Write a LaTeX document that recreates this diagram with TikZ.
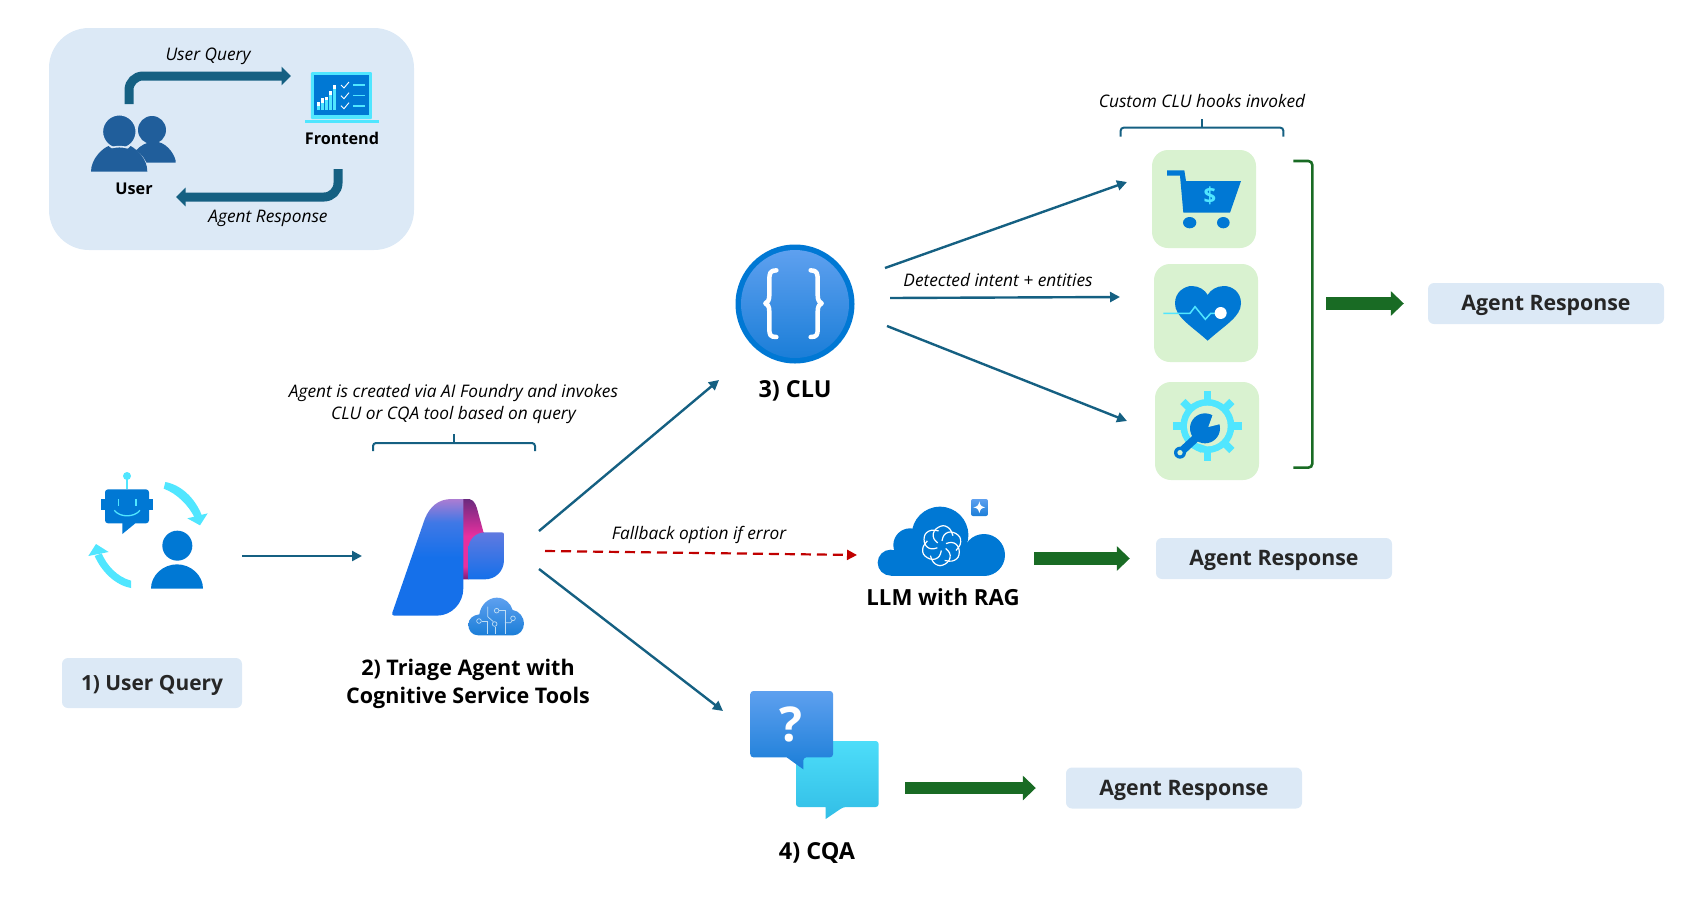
\documentclass[tikz,border=0pt]{standalone}
\usepackage{fontspec}
\setmainfont{Open Sans}
\usetikzlibrary{arrows.meta,calc}
\definecolor{panelc}{HTML}{DCE9F6}
\definecolor{conn}{HTML}{156082}
\definecolor{iblue}{HTML}{0078D4}
\definecolor{icyan}{HTML}{50E6FF}
\definecolor{ugreen}{HTML}{D9F2D0}
\definecolor{dgreen}{HTML}{196B24}
\definecolor{usr}{HTML}{205E9B}
\definecolor{dred}{HTML}{C00000}
\definecolor{tA}{HTML}{AC7CD2}
\definecolor{tB}{HTML}{3F78E6}
\definecolor{tC}{HTML}{1570EA}
\definecolor{pA}{HTML}{6B2A7E}
\definecolor{pB}{HTML}{E8309F}
\definecolor{pC}{HTML}{741F78}
\definecolor{gradTop}{HTML}{5EA0EF}
\definecolor{gradBot}{HTML}{1B7ED8}
\definecolor{cyTop}{HTML}{4DDDF9}
\definecolor{cyBot}{HTML}{32BEE6}
\pgfdeclareverticalshading{triagemain}{100bp}{color(0bp)=(tC); color(25bp)=(tC); color(50bp)=(tC); color(65bp)=(tB); color(75bp)=(tA); color(100bp)=(tA)}
\pgfdeclareverticalshading{ribbon}{100bp}{color(0bp)=(pC); color(25bp)=(pC); color(33bp)=(pB); color(52bp)=(pB); color(75bp)=(pA); color(100bp)=(pA)}
\tikzset{
  zoomed/.style 2 args={shift={(#1,#2)},x=0.33333pt,y=-0.33333pt},
  iconbox/.style={inner sep=0pt,outer sep=0pt},
  panelbox/.style={fill=panelc,rounded corners=40pt,inner sep=0pt,minimum width=365pt,minimum height=222pt},
  respbox/.style={fill=panelc,rounded corners=6pt,inner sep=0pt,minimum width=236pt,minimum height=41pt,text height=18pt,text depth=3.6pt,font=\fontsize{21.3}{24}\selectfont\bfseries,text=black!85},
  hookbox/.style={fill=ugreen,rounded corners=16pt,inner sep=0pt,minimum width=104pt,minimum height=98pt},
  captext/.style={font=\fontsize{17.3}{21.5}\selectfont\itshape,text=black,inner sep=0pt,align=center},
  smalltitle/.style={font=\fontsize{16.2}{20}\selectfont\bfseries,text=black,inner sep=0pt},
  bigtitle/.style={font=\fontsize{21.5}{28}\selectfont\bfseries,text=black,inner sep=0pt,align=center},
  largetitle/.style={font=\fontsize{23.4}{28}\selectfont\bfseries,text=black,inner sep=0pt},
  elbow/.style={draw=conn,line width=9pt,rounded corners=14pt,-{Triangle[length=9.5pt,width=18pt]}},
  flow/.style={draw=conn,line width=2.4pt,-{Triangle[length=10pt,width=10pt]}},
  fallback/.style={draw=dred,line width=2.2pt,dash pattern=on 10pt off 6pt,-{Triangle[length=10pt,width=10pt]}},
  bigarrow/.style={draw=dgreen,line width=12.5pt,-{Triangle[length=13pt,width=24pt]}},
  bracketline/.style={draw=conn,line width=2pt,rounded corners=3pt},
  greenbracket/.style={draw=dgreen,line width=2.6pt,rounded corners=4pt},
}
\begin{document}
\begin{tikzpicture}[x=1pt,y=-1pt]
\useasboundingbox (0,0) rectangle (1681,900);

%% ---- top-left panel
\node[panelbox] (panel) at (231.5,139) {};

% users icon
\node[iconbox,minimum width=85pt,minimum height=68pt] (users) at (133,138) {};
\begin{scope}[zoomed={30}{10}]
  \fill[usr] (366,360) circle[radius=42];
  \fill[usr] (300,458) .. controls (310,415) and (345,395) .. (375,395) .. controls (405,395) and (430,425) .. (437,452) -- (437,458) -- cycle;
  \fill[usr,draw=panelc,line width=1.6pt] (268,365) circle[radius=51];
  \fill[usr,draw=panelc,line width=1.6pt] (183,485) .. controls (183,445) and (220,410) .. (268,410) .. controls (316,410) and (352,445) .. (352,485) -- cycle;
  \fill[usr] (183,485) .. controls (183,445) and (220,413) .. (236,408) .. controls (250,426) and (290,426) .. (302,408) .. controls (320,418) and (352,445) .. (352,485) -- cycle;
\end{scope}

% laptop icon
\node[iconbox,minimum width=74pt,minimum height=51pt] (frontendicon) at (342,97.5) {};
\begin{scope}[zoomed={30}{10}]
  \fill[icyan,rounded corners=1pt] (843,186) rectangle (1026,327);
  \fill[iblue] (851,196) rectangle (1018,315);
  \fill[icyan] (825,329) rectangle (1047,339);
  \foreach \xa/\yb/\yc in {861/277/287, 873/265/278, 885/262/270, 897/243/255, 909/226/238}{
    \fill[icyan] (\xa,\yc) rectangle (\xa+10,300);
    \fill[white] (\xa,\yb) rectangle (\xa+10,\yc);
  }
  \foreach \yy in {225,257,287}{
    \draw[white,line width=.9pt] (933,\yy) -- (942,\yy+9) -- (957,\yy-9);
  }
  \foreach \yy in {225,256,288}{
    \draw[icyan,line width=1.3pt] (970,\yy) -- (1005,\yy);
  }
\end{scope}

\node[smalltitle] (frontendlabel) at (342,138) {Frontend};
\node[smalltitle] (userlabel) at (134,189) {User};
\node[captext] (uqlabel) at (208,56) {User Query};
\node[captext] (arlabel) at (268,218) {Agent Response};

\coordinate (toFrontend) at (291,76);
\coordinate (fromUser) at (129,104);
\coordinate (fromFrontend) at (338,169);
\coordinate (toUser) at (176,197);
\draw[elbow] (fromUser) |- (toFrontend);
\draw[elbow] (fromFrontend) |- (toUser);

%% ---- user query icon
\node[iconbox,minimum width=184pt,minimum height=120pt] (queryicon) at (150,556) {};
\begin{scope}[zoomed={60}{450}]
  \fill[icyan] (201,78) circle[radius=12];
  \draw[icyan,line width=1.4pt] (201,85) -- (201,118);
  \fill[iblue] (124,147) rectangle (278,180);
  \fill[iblue,rounded corners=3pt] (135,118) rectangle (267,220);
  \fill[iblue] (187,215) -- (187,252) -- (226,220) -- cycle;
  \draw[icyan,line width=1.2pt] (175,147) -- (175,168);
  \draw[icyan,line width=1.2pt] (228,147) -- (228,168);
  \draw[icyan,line width=1.3pt] (163,181) .. controls (180,203) and (222,203) .. (240,181);
  \fill[iblue] (352,287) circle[radius=45];
  \fill[iblue] (273,416) .. controls (273,375) and (310,343) .. (351,343) .. controls (392,343) and (429,375) .. (429,416) -- cycle;
  % cycle arrows
  \fill[icyan] (316,96) .. controls (365,105) and (405,145) .. (425,195) -- (404,203) .. controls (385,165) and (350,130) .. (311,116) -- cycle;
  \fill[icyan] (382,205) -- (443,190) -- (420,226) -- cycle;
  \fill[icyan] (213,392) .. controls (170,380) and (140,345) .. (125,310) -- (104,318) .. controls (125,365) and (165,405) .. (213,414) -- cycle;
  \fill[icyan] (85,318) -- (108,282) -- (146,306) -- cycle;
\end{scope}

\node[respbox,minimum width=180pt,minimum height=50pt,font=\fontsize{20.9}{24}\selectfont\bfseries] (step1) at (152,683) {1) User Query};

%% ---- triage agent icon
\node[iconbox,minimum width=177pt,minimum height=140pt] (triageicon) at (450.5,556) {};
\begin{scope}[zoomed={60}{450}]
  \path[shading=ribbon] (1205,147) -- (1228,147) .. controls (1245,150) and (1250,170) .. (1255,190) -- (1272,252) -- (1272,320) -- (1226,388) -- (1205,388) -- cycle;
  \path[shading=triagemain] (1210,147) -- (1210,415) .. controls (1210,460) and (1175,497) .. (1130,497) -- (1003,497) .. controls (998,497) and (995,493) .. (997,488) -- (1095,205) .. controls (1110,170) and (1135,147) .. (1175,147) -- cycle;
  \shade[top color=tB!70!tA,bottom color=tC] (1225,388) -- (1225,300) .. controls (1225,265) and (1250,247) .. (1275,247) -- (1325,247) .. controls (1330,247) and (1332,249) .. (1332,254) -- (1332,330) .. controls (1332,365) and (1305,388) .. (1275,388) -- cycle;
  % small cloud
  \shade[top color=gradTop,bottom color=gradBot] (1255,556) .. controls (1235,556) and (1225,540) .. (1225,525) .. controls (1225,505) and (1240,495) .. (1258,493) .. controls (1262,465) and (1285,443) .. (1310,443) .. controls (1335,443) and (1352,460) .. (1358,480) .. controls (1378,482) and (1392,503) .. (1392,520) .. controls (1392,540) and (1378,556) .. (1360,556) -- cycle;
  \begin{scope}[draw=white!75!iblue,line width=.7pt]
    \draw (1283,470) -- (1283,500) -- (1300,515);
    \draw (1265,513) -- (1283,513) -- (1283,553);
    \draw (1317,482) -- (1335,482) -- (1335,553);
    \draw (1335,518) -- (1352,518) -- (1358,510);
    \draw (1305,530) -- (1305,553);
    \foreach \cx/\cy in {1310/482,1304/522,1257/513,1359/505}{
      \draw (\cx,\cy) circle[radius=7];
    }
  \end{scope}
\end{scope}

\node[bigtitle] (triagelabel) at (468,683.5) {2) Triage Agent with\\Cognitive Service Tools};
\node[captext] (agentcap) at (453.5,404) {Agent is created via AI Foundry and invokes\\CLU or CQA tool based on query};
\coordinate (agL) at (373,451);
\coordinate (agR) at (535,451);
\coordinate (agT) at (454,434);
\coordinate (agH) at (454,443);
\draw[bracketline] (agL) |- (agH) -| (agR);
\draw[draw=conn,line width=2pt] (agT) -- (agH);

%% ---- CLU
\node[iconbox,circle,fill=iblue,minimum size=119pt] (clu) at (795,304) {};
\shade[top color=gradTop,bottom color=gradBot] (795,304) circle[radius=54];
\begin{scope}[zoomed={720}{230}]
  \draw[white,line width=4.5pt,line cap=round,line join=round] (169,121) .. controls (150,121) and (148,130) .. (148,150) -- (148,195) .. controls (148,212) and (142,218) .. (136,220) .. controls (142,222) and (148,228) .. (148,245) -- (148,295) .. controls (148,315) and (150,321) .. (169,321);
  \draw[white,line width=4.5pt,line cap=round,line join=round] (272,121) .. controls (291,121) and (293,130) .. (293,150) -- (293,195) .. controls (293,212) and (299,218) .. (305,220) .. controls (299,222) and (293,228) .. (293,245) -- (293,295) .. controls (293,315) and (291,321) .. (272,321);
\end{scope}
\node[largetitle] (clulabel) at (795,391) {3) CLU};

%% ---- hooks
\node[hookbox] (hook1) at (1204,199) {};
\node[hookbox] (hook2) at (1206,313) {};
\node[hookbox] (hook3) at (1207,431) {};
\begin{scope}[zoomed={1100}{80}]
  % cart
  \fill[iblue] (201,271) -- (253,271) -- (258,303) -- (423,303) -- (390,398) -- (250,398) -- (240,287) -- (201,287) -- cycle;
  \fill[iblue] (269,428) ellipse[x radius=20,y radius=17];
  \fill[iblue] (370,428) ellipse[x radius=19,y radius=17];
  \node[font=\fontsize{22}{23}\selectfont\bfseries,text=icyan,inner sep=0pt] (dollar) at (330,348) {\$};
  % heart
  \fill[iblue] (323,782) .. controls (270,735) and (225,710) .. (225,670) .. controls (225,635) and (255,618) .. (275,618) .. controls (297,618) and (315,630) .. (323,645) .. controls (331,630) and (350,618) .. (372,618) .. controls (395,618) and (423,635) .. (423,670) .. controls (423,710) and (375,735) .. (323,782) -- cycle;
  \draw[icyan,line width=1.5pt] (190,700) -- (270,700) -- (285,680) -- (316,718) -- (332,700) -- (350,700);
  \fill[white] (362,699) circle[radius=18];
  % gear
  \begin{scope}[shift={(322,1038)}]
    \foreach \a in {0,45,...,315}{
      \begin{scope}[rotate=\a]
        \fill[icyan] (-11,0) rectangle (11,104);
      \end{scope}
    }
    \fill[icyan] (0,0) circle[radius=81];
    \fill[ugreen] (0,0) circle[radius=61];
    \fill[icyan] (-40,69) -- (-20,80) -- (-2,61) -- (-35,50) -- cycle;
    \draw[iblue,line width=8pt] (-30,32) -- (-82,80);
    \fill[iblue] (-7,7) circle[radius=45];
    \fill[ugreen] (3,3) -- (22,-50) -- (50,-25) -- (47,-8) -- cycle;
    \fill[iblue] (-82,80) circle[radius=18];
    \fill[ugreen] (-82,80) circle[radius=8];
  \end{scope}
  % brackets
  \coordinate (hbL) at (62,170);
  \coordinate (hbR) at (550,170);
  \coordinate (hbT) at (305,118);
  \coordinate (hbH) at (305,143);
  \coordinate (gbT) at (580,243);
  \coordinate (gbB) at (580,1163);
  \coordinate (gbV) at (637,243);
  \draw[bracketline] (hbL) |- (hbH) -| (hbR);
  \draw[draw=conn,line width=2pt] (hbT) -- (hbH);
  \draw[greenbracket] (gbT) -- (gbV) -- (gbV |- gbB) -- (gbB);
\end{scope}
\node[captext] (hookcap) at (1202,101) {Custom CLU hooks invoked};
\node[captext] (detlabel) at (998,280) {Detected intent + entities};

%% ---- LLM
\node[iconbox,minimum width=126pt,minimum height=69pt] (llmicon) at (942,541) {};
\begin{scope}[zoomed={860}{490}]
  \fill[iblue] (92,218) circle[radius=39];
  \fill[iblue] (150,165) circle[radius=50];
  \fill[iblue] (240,135) circle[radius=85];
  \fill[iblue] (372,195) circle[radius=63];
  \fill[iblue] (92,180) rectangle (372,257);
  \begin{scope}[shift={(245,167)}]
    \foreach \a in {0,60,...,300}{
      \begin{scope}[rotate=\a]
        \draw[white,line width=1.2pt,rounded corners=6pt] (-12,-8) -- (-32,-28) -- (-12,-60) -- (22,-60) -- (34,-30);
      \end{scope}
    }
  \end{scope}
  \shade[top color=gradTop,bottom color=gradBot,rounded corners=2pt] (333,27) rectangle (384,78);
  \fill[white] (358,34) .. controls (360,46) and (364,50) .. (376,52) .. controls (364,54) and (360,58) .. (358,70) .. controls (356,58) and (352,54) .. (340,52) .. controls (352,50) and (356,46) .. (358,34) -- cycle;
\end{scope}
\node[bigtitle,font=\fontsize{22.2}{28}\selectfont\bfseries] (llmlabel) at (943,597) {LLM with RAG};
\node[captext] (fblabel) at (699,535) {Fallback option if error};

%% ---- CQA
\node[iconbox,minimum width=129pt,minimum height=128pt] (cqaicon) at (795,755) {};
\begin{scope}[zoomed={730}{680}]
  \shade[top color=cyTop,bottom color=cyBot,rounded corners=3pt] (198,183) -- (446,183) -- (446,381) -- (340,381) [sharp corners] -- (287,417) -- (287,381) [rounded corners=3pt] -- (198,381) -- cycle;
  \shade[top color=gradTop,bottom color=gradBot,rounded corners=3pt] (61,33) -- (309,33) -- (309,232) -- (220,232) [sharp corners] -- (220,268) -- (170,232) [rounded corners=3pt] -- (61,232) -- cycle;
  \node[font=\fontsize{48}{50}\selectfont\bfseries,text=white,inner sep=0pt] (qmark) at (182,133) {?};
\end{scope}
\node[largetitle] (cqalabel) at (817,852.5) {4) CQA};

%% ---- responses
\node[respbox] (resp1) at (1546,303.5) {Agent Response};
\node[respbox] (resp2) at (1274,558.5) {Agent Response};
\node[respbox] (resp3) at (1184,788) {Agent Response};

%% ---- connectors
\draw[flow] (queryicon.east) -- (triageicon.west);
\coordinate (tOutC) at (539,531);
\coordinate (tInC) at (719,380);
\coordinate (tOutL) at (545,551);
\coordinate (tInL) at (857,555);
\coordinate (tOutQ) at (539,569);
\coordinate (tInQ) at (723,711);
\draw[flow] (tOutC) -- (tInC);
\draw[fallback] (tOutL) -- (tInL);
\draw[flow] (tOutQ) -- (tInQ);
\coordinate (cOutA) at (885,268);
\coordinate (cInA) at (1127,182);
\coordinate (cOutB) at (890,298);
\coordinate (cInB) at (1120,297);
\coordinate (cOutC) at (887,326);
\coordinate (cInC) at (1127,421);
\draw[flow] (cOutA) -- (cInA);
\draw[flow] (cOutB) -- (cInB);
\draw[flow] (cOutC) -- (cInC);
\coordinate (g1) at (1326,303.5);
\coordinate (g2) at (1034,558.5);
\coordinate (g3) at (905,788);
\draw[bigarrow,shorten >=24pt] (g1) -- (resp1.west);
\draw[bigarrow,shorten >=26pt] (g2) -- (resp2.west);
\draw[bigarrow,shorten >=30pt] (g3) -- (resp3.west);
\end{tikzpicture}
\end{document}
